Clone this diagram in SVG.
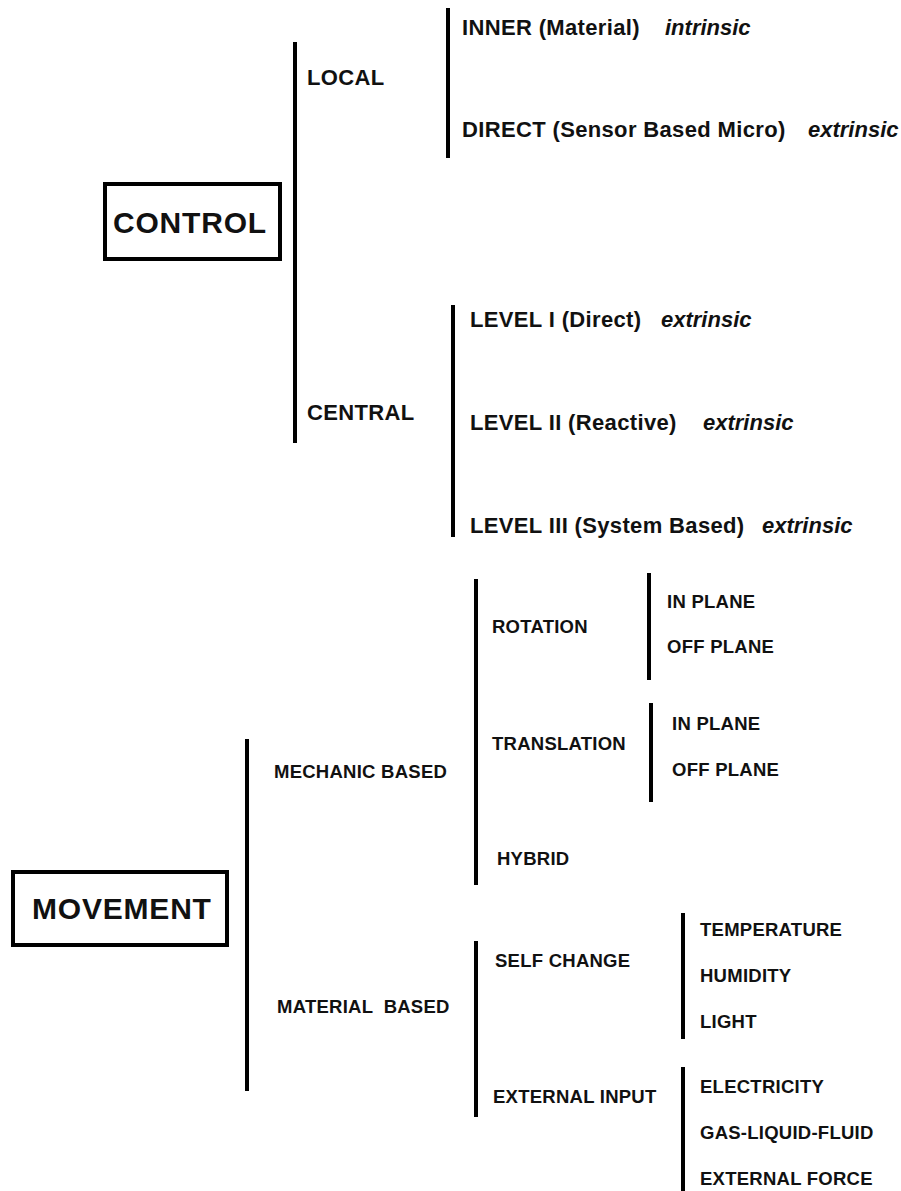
<svg xmlns="http://www.w3.org/2000/svg" width="901" height="1191" viewBox="0 0 901 1191">
<style>
text{font-family:"Liberation Sans",Arial,sans-serif;font-weight:bold;fill:#111}
.big{font-size:30px;letter-spacing:0.8px}
.t{font-size:22px;letter-spacing:0.35px}
.i{font-size:22px;font-style:italic}
.m{font-size:18.5px;letter-spacing:0.25px}
.box{fill:#fff;stroke:#000;stroke-width:4}
.br{stroke:#000;stroke-width:4;fill:none}
</style>
<rect width="901" height="1191" fill="#fff"/>
<g id="connectors">
<line class="br" x1="295" y1="42" x2="295" y2="443"/>
<line class="br" x1="448" y1="8" x2="448" y2="158"/>
<line class="br" x1="453" y1="305" x2="453" y2="537"/>
<line class="br" x1="247" y1="739" x2="247" y2="1091"/>
<line class="br" x1="476" y1="579" x2="476" y2="885"/>
<line class="br" x1="649" y1="573" x2="649" y2="680"/>
<line class="br" x1="651" y1="703" x2="651" y2="802"/>
<line class="br" x1="476" y1="941" x2="476" y2="1117"/>
<line class="br" x1="683" y1="913" x2="683" y2="1039"/>
<line class="br" x1="683" y1="1067" x2="683" y2="1191"/>
</g>
<g id="control">
<rect class="box" x="105" y="184" width="175" height="75"/>
<text class="big" x="113" y="233">CONTROL</text>
</g>
<g id="local"><text class="t" x="307" y="85">LOCAL</text></g>
<g id="central"><text class="t" x="307" y="420">CENTRAL</text></g>
<g id="inner"><text class="t" x="462" y="35">INNER (Material)</text><text class="i" x="665" y="35">intrinsic</text></g>
<g id="direct"><text class="t" x="462" y="137">DIRECT (Sensor Based Micro)</text><text class="i" x="808" y="137">extrinsic</text></g>
<g id="level1"><text class="t" x="470" y="327">LEVEL I (Direct)</text><text class="i" x="661" y="327">extrinsic</text></g>
<g id="level2"><text class="t" x="470" y="430">LEVEL II (Reactive)</text><text class="i" x="703" y="430">extrinsic</text></g>
<g id="level3"><text class="t" x="470" y="533">LEVEL III (System Based)</text><text class="i" x="762" y="533">extrinsic</text></g>
<g id="movement">
<rect class="box" x="13" y="872" width="214" height="73"/>
<text class="big" x="32" y="919">MOVEMENT</text>
</g>
<g id="mechanic"><text class="m" x="274" y="778">MECHANIC BASED</text></g>
<g id="material"><text class="m" x="277" y="1013" xml:space="preserve">MATERIAL  BASED</text></g>
<g id="rotation"><text class="m" x="492" y="633">ROTATION</text></g>
<g id="rot-in"><text class="m" x="667" y="608">IN PLANE</text></g>
<g id="rot-off"><text class="m" x="667" y="653">OFF PLANE</text></g>
<g id="translation"><text class="m" x="492" y="750">TRANSLATION</text></g>
<g id="tr-in"><text class="m" x="672" y="730">IN PLANE</text></g>
<g id="tr-off"><text class="m" x="672" y="776">OFF PLANE</text></g>
<g id="hybrid"><text class="m" x="497" y="865">HYBRID</text></g>
<g id="selfchange"><text class="m" x="495" y="967">SELF CHANGE</text></g>
<g id="externalinput"><text class="m" x="493" y="1103">EXTERNAL INPUT</text></g>
<g id="temperature"><text class="m" x="700" y="936">TEMPERATURE</text></g>
<g id="humidity"><text class="m" x="700" y="982">HUMIDITY</text></g>
<g id="light"><text class="m" x="700" y="1028">LIGHT</text></g>
<g id="electricity"><text class="m" x="700" y="1093">ELECTRICITY</text></g>
<g id="gas"><text class="m" x="700" y="1139">GAS-LIQUID-FLUID</text></g>
<g id="force"><text class="m" x="700" y="1185">EXTERNAL FORCE</text></g>
</svg>
